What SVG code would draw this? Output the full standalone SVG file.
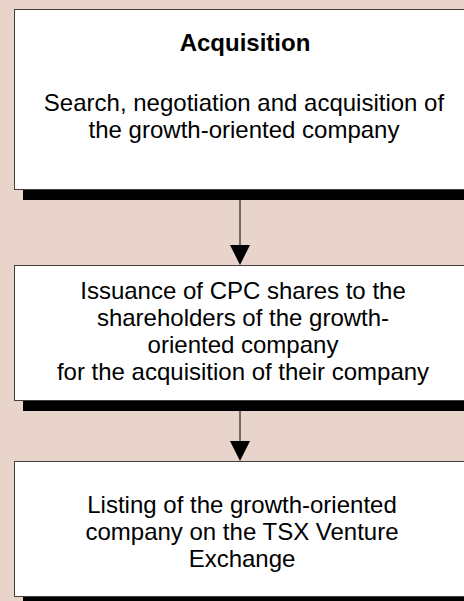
<svg xmlns="http://www.w3.org/2000/svg" width="464" height="601" viewBox="0 0 464 601">
  <defs>
    <style>
      .shadow { fill: #000000; }
      .box { fill: #ffffff; stroke: #404040; stroke-width: 1; }
      .txt { font-family: "Liberation Sans", Arial, sans-serif; font-size: 24px; fill: #000000; text-anchor: middle; }
      .title { font-weight: bold; }
      .link { stroke: #000000; stroke-width: 1; fill: none; }
      .head { fill: #000000; }
    </style>
  </defs>

  <rect x="0" y="0" width="464" height="601" fill="#E9D4CB"/>

  <g id="acquisition">
    <rect class="shadow" x="23" y="19" width="460" height="181"/>
    <rect class="box" x="14.5" y="9.5" width="460" height="180"/>
    <text class="txt title" x="245" y="51">Acquisition</text>
    <text class="txt" x="244" y="111">Search, negotiation and acquisition of</text>
    <text class="txt" x="244" y="138">the growth-oriented company</text>
  </g>

  <g id="issuance">
    <rect class="shadow" x="23" y="275" width="460" height="136"/>
    <rect class="box" x="14.5" y="265.5" width="460" height="135"/>
    <text class="txt" x="243" y="299">Issuance of CPC shares to the</text>
    <text class="txt" x="243" y="326">shareholders of the growth-</text>
    <text class="txt" x="243" y="353">oriented company</text>
    <text class="txt" x="243" y="380">for the acquisition of their company</text>
  </g>

  <g id="listing">
    <rect class="shadow" x="23" y="471" width="460" height="140"/>
    <rect class="box" x="14.5" y="461.5" width="460" height="135"/>
    <text class="txt" x="242" y="513">Listing of the growth-oriented</text>
    <text class="txt" x="242" y="540">company on the TSX Venture</text>
    <text class="txt" x="242" y="567">Exchange</text>
  </g>

  <g id="connectors">
    <line class="link" x1="240" y1="200" x2="240" y2="246"/>
    <polygon class="head" points="230,245 250,245 240,265"/>
    <line class="link" x1="240" y1="411" x2="240" y2="442"/>
    <polygon class="head" points="230,441 250,441 240,461"/>
  </g>
</svg>
